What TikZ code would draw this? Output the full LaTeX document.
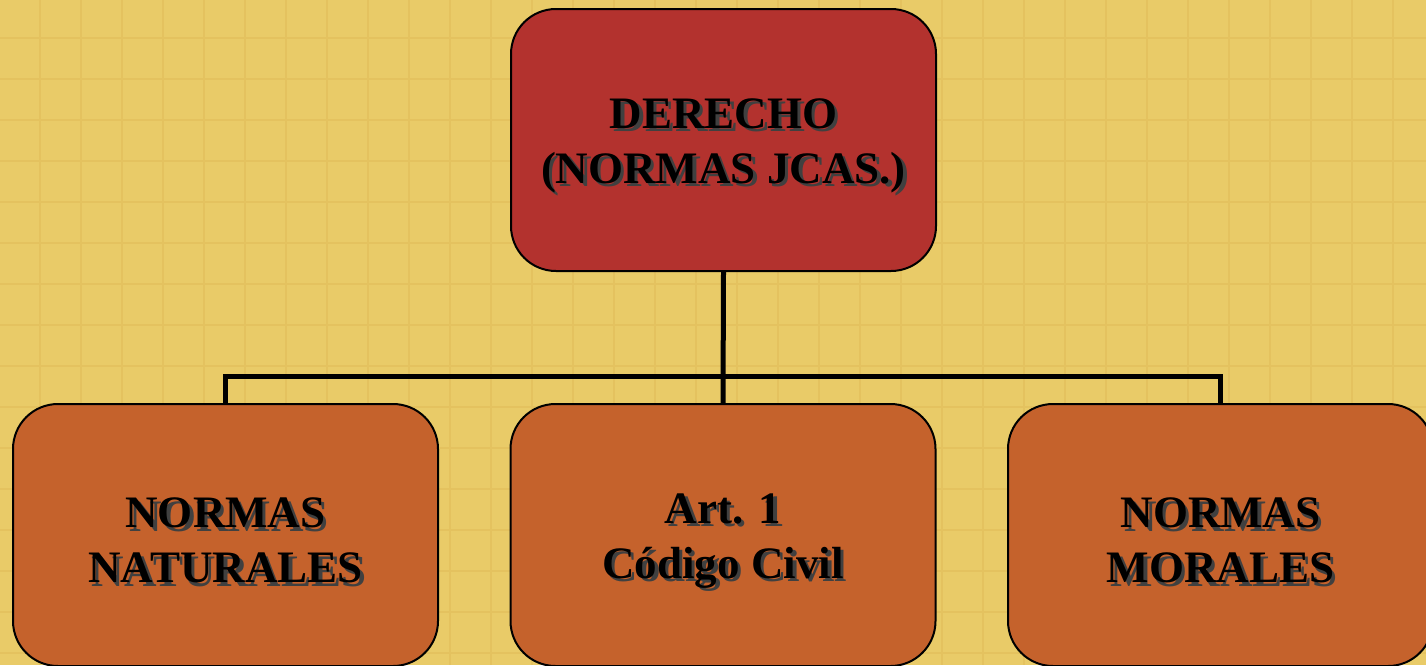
\documentclass[tikz,border=0pt]{standalone}
\usepackage{fontspec}
\setmainfont{Liberation Serif}
\usepackage{tikz}

\definecolor{fondo}{HTML}{E9CB68}
\definecolor{rejilla}{HTML}{E4C25F}
\definecolor{rojo}{HTML}{B3322E}
\definecolor{naranja}{HTML}{C5622C}
\newcommand{\sombra}[1]{\leavevmode\rlap{\kern3.5pt\raisebox{-3.5pt}{\color{black!75}#1}}#1}

\begin{document}
\begin{tikzpicture}[x=1pt,y=-1pt,
  caja/.style={draw=black,line width=2pt,rounded corners=45pt,
    minimum width=425pt,minimum height=262pt,align=center,
    font=\fontsize{45}{55}\selectfont\bfseries},
  rama/.style={line width=5pt}]
\useasboundingbox (0,0) rectangle (1426,665);
\clip (0,0) rectangle (1426,665);
\fill[fondo] (0,0) rectangle (1426,665);
% rejilla del fondo
\foreach \i in {0,...,35} \draw[rejilla,line width=1.5pt] (-1+41*\i,0) -- (-1+41*\i,665);
\foreach \j in {0,...,16} \draw[rejilla,line width=1.5pt] (0,-3+41*\j) -- (1426,-3+41*\j);
% cajas
\node[caja,fill=rojo] (der) at (723.5,140) {\vphantom{X}\\[-40pt]\sombra{DERECHO}\\\sombra{(NORMAS JCAS.)}};
\node[caja,fill=naranja] (nat) at (225.5,535) {\vphantom{X}\\[-40pt]\sombra{NORMAS}\\\sombra{NATURALES}};
\node[caja,fill=naranja] (art) at (723,535) {\vphantom{X}\\[-40pt]\sombra{Art. 1}\\\sombra{Código Civil}};
\node[caja,fill=naranja] (mor) at (1220.5,535) {\vphantom{X}\\[-40pt]\sombra{NORMAS}\\\sombra{MORALES}};
% ramas
\coordinate (bar) at (723,376);
\draw[rama] (der.south) -- (art.north);
\draw[rama] (nat.north) |- (bar) -| (mor.north);
\end{tikzpicture}
\end{document}
